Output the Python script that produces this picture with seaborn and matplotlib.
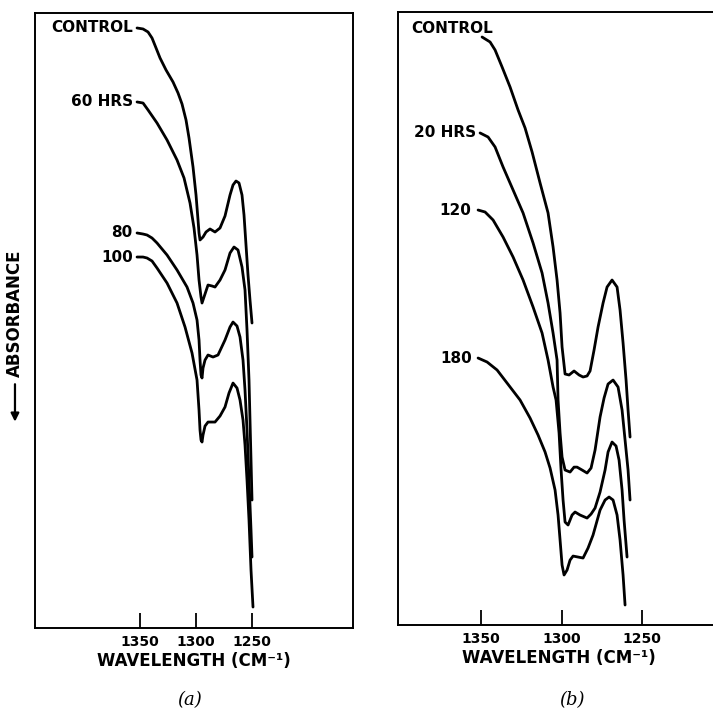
import matplotlib
matplotlib.use("Agg")
import matplotlib.pyplot as plt
import pandas as pd
import seaborn as sns

# wavenumber (cm-1) and absorbance (arbitrary units, increasing downward)
A_LABELS = ["CONTROL", "60 HRS", "80", "100"]
A_CONTROL_X = [1352.68, 1347.32, 1342.86, 1339.29, 1335.71, 1332.14, 1326.79, 1320.54, 1316.07,
               1312.50, 1308.93, 1306.25, 1302.68, 1300.00, 1298.21, 1297.32, 1296.43, 1293.75,
               1291.07, 1287.50, 1283.04, 1278.57, 1274.11, 1269.64, 1266.96, 1264.29, 1261.61,
               1258.93, 1257.14, 1255.36, 1253.57, 1251.79, 1250.00]
A_CONTROL_Y = [2.60, 2.76, 3.25, 4.23, 5.85, 7.48, 9.43, 11.38, 13.17, 14.96, 17.56, 20.49, 25.20,
               29.76, 33.82, 35.93, 37.07, 36.59, 35.77, 35.28, 35.77, 35.12, 33.17, 29.76, 28.13,
               27.48, 27.80, 29.76, 33.01, 37.89, 42.76, 46.83, 50.57]
A_60_X = [1352.68, 1347.32, 1342.86, 1334.82, 1325.89, 1316.96, 1310.71, 1305.36, 1301.79, 1299.11,
          1297.32, 1295.54, 1294.64, 1292.86, 1289.29, 1285.71, 1283.04, 1278.57, 1274.11, 1269.64,
          1266.07, 1262.50, 1258.93, 1256.25, 1254.46, 1252.68, 1251.79, 1250.89, 1250.00]
A_60_Y = [14.63, 14.80, 15.93, 18.05, 20.81, 24.07, 26.99, 31.06, 35.12, 39.51, 43.58, 46.34, 47.32,
          46.34, 44.39, 44.55, 44.72, 43.58, 41.95, 39.19, 38.21, 38.70, 41.46, 45.20, 51.71, 59.84,
          66.34, 72.85, 79.35]
A_80_X = [1352.68, 1347.32, 1343.75, 1339.29, 1334.82, 1325.89, 1316.96, 1308.04, 1302.68, 1299.11,
          1297.32, 1296.43, 1295.54, 1294.64, 1293.75, 1291.96, 1289.29, 1284.82, 1280.36, 1274.11,
          1269.64, 1266.96, 1263.39, 1260.71, 1258.04, 1256.25, 1254.46, 1252.68, 1250.89, 1250.00]
A_80_Y = [35.93, 36.10, 36.26, 36.75, 37.56, 39.51, 41.95, 44.72, 47.32, 50.08, 53.33, 56.59, 59.02,
          59.51, 57.89, 56.59, 55.77, 56.10, 55.77, 53.33, 51.22, 50.41, 51.06, 52.85, 56.59, 61.46,
          67.97, 76.10, 84.23, 88.62]
A_100_X = [1352.68, 1347.32, 1343.75, 1339.29, 1334.82, 1325.89, 1316.96, 1309.82, 1303.57, 1299.11,
           1297.32, 1296.43, 1295.54, 1294.64, 1293.75, 1291.96, 1289.29, 1285.71, 1283.04, 1278.57,
           1274.11, 1270.54, 1266.96, 1263.39, 1260.71, 1258.04, 1256.25, 1254.46, 1252.68, 1250.89,
           1249.11]
A_100_Y = [39.84, 39.84, 40.00, 40.49, 41.63, 44.07, 47.32, 51.22, 55.45, 59.84, 64.72, 67.97, 69.59,
           69.92, 68.78, 67.32, 66.67, 66.67, 66.67, 65.69, 64.23, 61.95, 60.33, 61.14, 63.09, 66.34,
           70.41, 76.10, 82.60, 90.73, 96.75]

B_LABELS = ["CONTROL", "20 HRS", "120", "180"]
B_CONTROL_X = [1349.38, 1344.41, 1341.30, 1336.96, 1331.99, 1327.02, 1322.67, 1318.32, 1313.35,
               1308.39, 1305.28, 1302.80, 1300.93, 1299.69, 1297.83, 1295.34, 1292.24, 1289.13,
               1286.65, 1284.16, 1282.30, 1279.82, 1277.33, 1274.22, 1271.74, 1268.64, 1265.53,
               1263.67, 1261.80, 1259.94, 1258.70, 1257.46]
B_CONTROL_Y = [4.07, 4.88, 6.18, 8.94, 12.20, 15.93, 18.86, 22.76, 27.80, 32.68, 38.21, 43.58, 48.94,
               54.47, 58.86, 59.02, 58.37, 59.02, 59.35, 59.18, 58.37, 54.96, 51.22, 47.32, 44.72,
               43.58, 44.72, 48.46, 53.82, 59.84, 64.72, 69.11]
B_20_X = [1350.62, 1345.65, 1341.30, 1336.34, 1330.12, 1323.91, 1317.70, 1312.11, 1308.39, 1305.28,
          1302.80, 1302.18, 1300.93, 1299.69, 1297.83, 1294.72, 1292.24, 1290.37, 1287.27, 1284.16,
          1281.68, 1279.19, 1276.09, 1273.60, 1271.12, 1268.01, 1264.91, 1262.42, 1260.56, 1258.70,
          1257.46]
B_20_Y = [19.67, 20.33, 21.95, 25.20, 28.94, 32.68, 37.56, 42.44, 47.32, 52.20, 56.59, 63.09, 68.46,
          72.36, 74.47, 74.80, 74.00, 74.00, 74.47, 74.96, 74.15, 71.22, 65.85, 62.76, 60.49, 59.84,
          60.98, 64.72, 69.59, 74.47, 79.35]
B_120_X = [1351.86, 1347.52, 1342.55, 1336.34, 1330.12, 1323.91, 1317.70, 1312.11, 1308.39, 1305.28,
           1303.42, 1301.55, 1300.31, 1299.07, 1297.83, 1295.96, 1293.48, 1291.62, 1288.51, 1284.16,
           1281.68, 1279.19, 1276.09, 1272.98, 1271.12, 1268.64, 1266.15, 1264.29, 1262.42, 1261.18,
           1259.32]
B_120_Y = [32.20, 32.52, 33.82, 36.59, 39.84, 43.58, 47.97, 52.20, 56.59, 60.98, 63.09, 68.46, 74.47,
           79.35, 82.93, 83.41, 81.79, 81.30, 81.79, 82.28, 81.63, 80.65, 78.05, 74.47, 71.54, 69.92,
           70.57, 72.85, 77.72, 82.60, 88.62]
B_180_X = [1351.86, 1346.27, 1340.06, 1333.85, 1325.78, 1319.57, 1314.60, 1310.25, 1307.14, 1304.04,
           1302.18, 1300.93, 1299.69, 1298.45, 1296.58, 1294.72, 1292.86, 1289.75, 1286.65, 1283.54,
           1280.44, 1276.09, 1272.98, 1270.50, 1268.01, 1265.53, 1263.67, 1261.80, 1260.56]
B_180_Y = [56.26, 56.91, 58.21, 60.33, 63.09, 66.02, 68.78, 71.54, 74.15, 77.72, 81.79, 85.85, 89.92,
           91.54, 90.73, 89.11, 88.46, 88.62, 88.78, 87.15, 85.04, 80.98, 79.35, 78.86, 79.35, 81.79,
           85.85, 91.54, 96.42]

X_TICKS = [1350, 1300, 1250]
X_TICK_LABELS = ["1350", "1300", "1250"]

LINE_COLOR = "black"
FONT = ["DejaVu Sans"]
# label offsets (points) from the first point of each curve
A_LABEL_OFFSETS = [(-3, 0), (-3, 0), (-3, 0), (-3, 0)]
B_LABEL_OFFSETS = [(8, 6), (-3, 0), (-5, 0), (-4, 0)]


def configure_plot_style():
    sns.set_theme(style="white")
    plt.rcParams.update({
        "font.family": FONT,
        "text.color": "black",
        "axes.labelcolor": "black",
        "axes.edgecolor": "black",
        "axes.linewidth": 1.4,
        "xtick.color": "black",
    })


def build_frame(labels, xs, ys):
    rows = []
    for label, x_values, y_values in zip(labels, xs, ys):
        for x_value, y_value in zip(x_values, y_values):
            rows.append({"sample": label, "wavenumber": x_value, "absorbance": y_value})
    return pd.DataFrame(rows)


def draw_panel(ax, df, labels, offsets, xlim, ylim):
    sns.lineplot(data=df, x="wavenumber", y="absorbance", units="sample", estimator=None,
                 sort=False, color=LINE_COLOR, linewidth=2.0, ax=ax, legend=False,
                 solid_joinstyle="round", solid_capstyle="round")
    for label, offset in zip(labels, offsets):
        first = df[df["sample"] == label].iloc[0]
        ax.annotate(label, (first["wavenumber"], first["absorbance"]), xytext=offset,
                    textcoords="offset points", ha="right", va="center",
                    fontsize=11, fontweight="bold", color="black")
    ax.set_xlim(*xlim)
    ax.set_ylim(*ylim)
    ax.set_xticks(X_TICKS)
    ax.set_xticklabels(X_TICK_LABELS, fontsize=10, fontweight="bold")
    ax.set_yticks([])
    ax.tick_params(axis="x", direction="in", length=11, width=1.3, pad=5, bottom=True)
    ax.set_xlabel("WAVELENGTH (CM\u207b\u00b9)", fontsize=12, fontweight="bold", labelpad=2)
    ax.set_ylabel("")
    for spine in ax.spines.values():
        spine.set_visible(True)
        spine.set_color("black")


def main():
    configure_plot_style()
    fig = plt.figure(figsize=(7.13, 7.17), dpi=100)
    ax_a = fig.add_axes([0.0491, 0.1241, 0.446, 0.8578])
    ax_b = fig.add_axes([0.5582, 0.1283, 0.4516, 0.8550])

    df_a = build_frame(A_LABELS, [A_CONTROL_X, A_60_X, A_80_X, A_100_X],
                       [A_CONTROL_Y, A_60_Y, A_80_Y, A_100_Y])
    df_b = build_frame(B_LABELS, [B_CONTROL_X, B_20_X, B_120_X, B_180_X],
                       [B_CONTROL_Y, B_20_Y, B_120_Y, B_180_Y])

    draw_panel(ax_a, df_a, A_LABELS, A_LABEL_OFFSETS, (1443.8, 1159.8), (100.16, 0.16))
    draw_panel(ax_b, df_b, B_LABELS, B_LABEL_OFFSETS, (1401.6, 1201.6), (99.67, 0.0))

    fig.text(0.021, 0.5635, "ABSORBANCE", rotation=90, ha="center", va="center",
             fontsize=12, fontweight="bold")
    ax_a.annotate("", xy=(0.021, 0.408), xytext=(0.021, 0.468), xycoords="figure fraction",
                  textcoords="figure fraction",
                  arrowprops={"arrowstyle": "-|>", "color": "black", "lw": 1.6,
                              "mutation_scale": 12})

    fig.text(0.2665, 0.0237, "(a)", ha="center", va="center", fontsize=13,
             family=["DejaVu Serif"], style="italic")
    fig.text(0.802, 0.0237, "(b)", ha="center", va="center", fontsize=13,
             family=["DejaVu Serif"], style="italic")

    fig.savefig("out.png", dpi=100)
    plt.close(fig)


if __name__ == "__main__":
    main()
